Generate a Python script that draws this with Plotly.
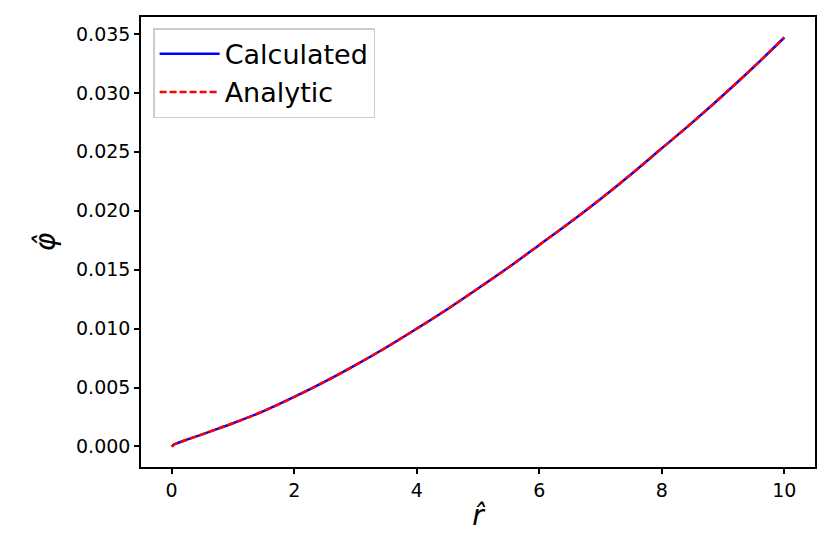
import plotly.graph_objects as go

# radial coordinate and potential
r_hat = [0, 0.05, 0.1, 0.25, 0.5, 0.75, 1, 1.5, 2, 2.5, 3, 3.5, 4, 4.5, 5,
         5.5, 6, 6.5, 7, 7.5, 8, 8.5, 9, 9.5, 10]
phi_calc = [0, 0.0002, 0.0003, 0.00058, 0.00103, 0.0015, 0.00197, 0.0030,
            0.0042, 0.0055, 0.0069, 0.0084, 0.0100, 0.01165, 0.0134, 0.0152,
            0.0171, 0.0190, 0.0210, 0.0231, 0.0253, 0.0275, 0.0298, 0.0322,
            0.0347]
phi_analytic = list(phi_calc)

x_ticks = [0, 2, 4, 6, 8, 10]
y_ticks = [0.000, 0.005, 0.010, 0.015, 0.020, 0.025, 0.030, 0.035]

fig = go.Figure()

fig.add_trace(go.Scatter(
    x=r_hat, y=phi_calc,
    mode='lines',
    line=dict(color='blue', width=2.5, shape='spline'),
    name='Calculated'
))

fig.add_trace(go.Scatter(
    x=r_hat, y=phi_analytic,
    mode='lines',
    line=dict(color='red', width=2.5, dash='7px,3px', shape='spline'),
    name='Analytic'
))

# page body adds an 8px offset, so the figure is shrunk to fit the window
fig.update_layout(
    width=821, height=549,
    margin=dict(l=133, r=14, t=7, b=90),
    plot_bgcolor='white',
    paper_bgcolor='white',
    font=dict(family='DejaVu Sans', size=19, color='black'),
    showlegend=True,
    legend=dict(
        x=0.018, y=0.975, xanchor='left', yanchor='top',
        bgcolor='rgba(255,255,255,0.8)',
        bordercolor='#cccccc', borderwidth=1.5,
        font=dict(size=27),
        itemwidth=60,
        tracegroupgap=2
    )
)

fig.update_xaxes(
    range=[-0.5, 10.5],
    tickvals=x_ticks,
    ticktext=[str(t) for t in x_ticks],
    ticks='outside', ticklen=5, tickwidth=1.5, tickcolor='black',
    showline=True, linewidth=1.5, linecolor='black', mirror=True,
    showgrid=False, zeroline=False,
    title=dict(text='<i>r̂</i>', font=dict(size=28), standoff=6)
)
fig.update_yaxes(
    range=[-0.00174, 0.03644],
    tickvals=y_ticks,
    ticktext=['%.3f' % t for t in y_ticks],
    ticks='outside', ticklen=5, tickwidth=1.5, tickcolor='black',
    showline=True, linewidth=1.5, linecolor='black', mirror=True,
    showgrid=False, zeroline=False,
    title=dict(text='<i>φ̂</i>', font=dict(size=28), standoff=12)
)

fig.write_html("out.html")
